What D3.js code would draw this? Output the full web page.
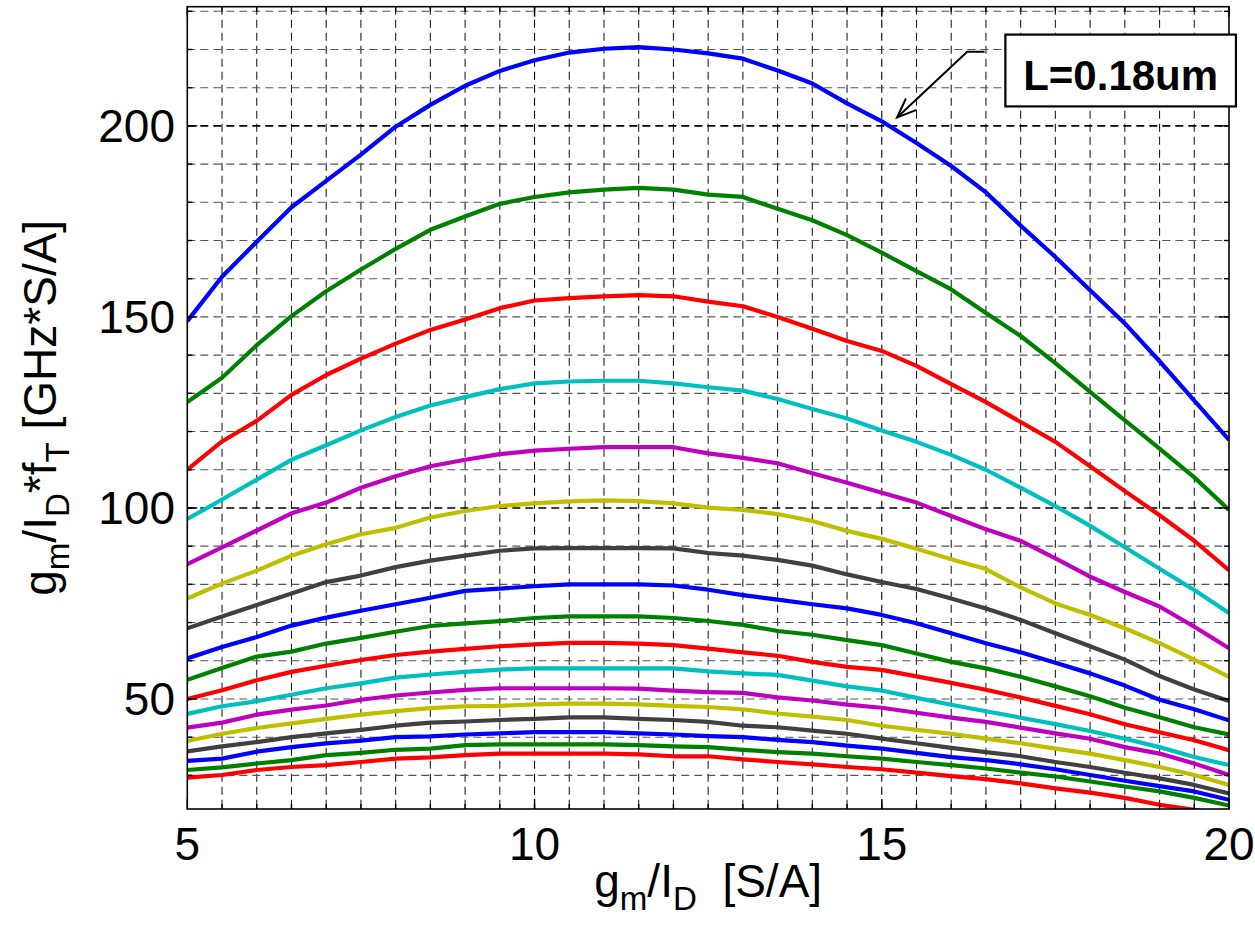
<!DOCTYPE html>
<html><head><meta charset="utf-8">
<script src="https://cdn.jsdelivr.net/npm/d3@7"></script>
<style>
html,body{margin:0;padding:0;background:#fff;}
svg{display:block;font-family:"Liberation Sans",Arial,Helvetica,sans-serif;}
</style></head>
<body><svg id="chart" width="1255" height="936"></svg>
<script>
// x values (gm/ID, S/A)
const xVals = [5,5.5,6,6.5,7,7.5,8,8.5,9,9.5,10,10.5,11,11.5,12,12.5,13,13.5,14,14.5,15,15.5,16,16.5,17,17.5,18,18.5,19,19.5,20];
const xTicks = [5,10,15,20];
const yTicks = [50,100,150,200];
const lineColors = ["#0000ff","#008000","#ff0000","#00bfbf","#bf00bf","#bfbf00","#404040"];

const s01 = [148.9,160.5,169.7,178.7,185.6,192.5,199.8,205.5,210.5,214.4,217.2,219.2,220.2,220.6,220.0,219.0,217.6,214.5,211.1,205.9,201.2,195.5,189.5,182.6,173.9,165.7,157.0,148.3,138.4,128.1,117.8];
const s02 = [127.7,134.1,142.6,150.2,156.7,162.4,167.8,172.8,176.3,179.6,181.4,182.6,183.3,183.8,183.3,182.0,181.4,178.3,175.3,171.4,166.8,162.0,157.2,151.0,145.0,137.9,130.4,122.9,115.5,108.0,99.5];
const s03 = [110.0,117.4,122.8,129.6,134.8,139.1,143.0,146.6,149.3,152.3,154.3,154.9,155.4,155.7,155.4,154.0,152.8,150.0,146.9,143.7,141.1,137.2,132.4,127.7,122.5,117.3,110.9,104.4,98.1,91.4,83.7];
const s04 = [97.1,102.2,107.4,112.6,116.4,120.3,123.8,126.8,129.0,131.1,132.6,133.1,133.3,133.3,132.6,131.6,130.7,128.5,125.9,123.4,120.3,117.3,113.9,110.0,105.3,100.5,95.3,89.7,84.1,78.5,72.5];
const s05 = [85.3,89.7,94.1,98.6,101.4,105.3,108.3,110.9,112.6,114.1,115.0,115.5,115.9,115.9,115.9,114.3,113.1,111.7,109.1,106.6,104.0,101.4,97.9,94.4,91.4,86.8,82.0,78.0,74.2,68.9,63.3];
const s06 = [76.3,80.2,83.6,87.5,90.5,93.1,94.8,97.5,99.2,100.5,101.2,101.7,102.0,101.8,101.2,100.1,99.5,98.4,96.6,94.0,91.9,89.3,86.6,84.0,79.2,75.0,72.0,68.5,64.6,60.3,55.8];
const s07 = [68.5,71.6,74.6,77.6,80.6,82.3,84.5,86.2,87.5,88.8,89.4,89.5,89.5,89.5,89.4,88.2,87.5,86.4,84.9,82.6,80.6,78.8,76.3,73.7,70.7,67.2,63.8,60.3,56.0,52.5,49.5];
const s08 = [60.6,63.6,66.2,69.2,71.3,73.1,74.8,76.5,78.3,78.9,79.5,80.0,80.0,80.0,79.7,78.6,77.2,76.0,74.8,73.7,72.0,69.8,67.2,64.6,62.2,59.5,56.7,53.5,49.8,47.3,44.4];
const s09 = [55.0,58.1,61.1,62.4,64.5,66.0,67.6,69.1,69.8,70.4,71.2,71.6,71.6,71.6,71.2,70.4,69.4,67.8,66.8,65.4,64.1,61.9,59.7,58.0,55.8,53.3,50.7,47.7,45.2,42.6,40.7];
const s10 = [50.0,52.3,54.9,57.1,58.7,60.2,61.5,62.4,63.1,63.8,64.3,64.7,64.7,64.5,64.1,63.2,62.2,61.3,59.7,58.4,57.6,55.9,54.2,52.4,50.4,48.2,46.0,43.4,41.3,39.2,36.6];
const s11 = [46.1,48.1,49.4,51.1,52.8,54.1,55.6,56.4,57.1,57.7,58.0,58.0,58.0,58.0,58.0,57.2,56.7,56.3,54.8,53.3,52.2,50.3,48.5,46.8,45.1,43.4,41.6,39.6,37.4,34.8,32.7];
const s12 = [42.5,43.8,45.9,47.2,48.3,49.8,50.9,51.7,52.4,52.8,52.8,52.8,52.8,52.7,52.2,51.8,51.6,50.4,49.6,48.5,47.7,46.4,45.1,44.0,42.5,41.0,39.6,37.4,35.7,33.1,30.1];
const s13 = [39.0,40.9,42.4,43.6,44.8,45.9,46.8,47.6,48.1,48.2,48.6,48.8,48.8,48.6,48.2,47.9,47.3,46.2,45.4,44.5,43.0,41.9,40.9,39.6,38.4,37.0,35.7,34.0,32.2,30.1,27.5];
const s14 = [36.3,37.6,38.7,40.0,41.0,41.9,43.0,43.8,44.1,44.5,44.8,45.2,45.2,44.8,44.5,44.0,43.0,42.6,41.7,40.9,39.6,38.4,37.2,36.1,35.0,33.5,32.2,30.7,29.2,27.5,25.3];
const s15 = [33.8,34.4,36.2,37.4,38.4,39.1,40.0,40.2,40.7,41.0,41.3,41.3,41.3,41.0,40.7,40.3,40.0,39.3,38.7,37.8,37.0,35.9,34.8,34.0,32.9,31.6,30.1,28.6,27.2,25.8,23.6];
const s16 = [31.4,32.1,33.1,34.0,35.3,35.9,36.7,37.0,37.9,38.1,38.1,38.1,38.1,37.9,37.6,37.4,36.7,36.1,35.7,35.0,34.4,33.5,32.7,31.8,30.7,29.7,28.4,27.1,25.8,24.1,22.1];
const s17 = [29.4,30.1,31.4,32.2,32.7,33.5,34.4,34.7,35.3,35.7,35.7,35.7,35.7,35.5,35.0,35.0,34.2,33.5,32.9,32.2,31.6,30.7,29.8,29.0,27.9,26.6,25.5,24.1,22.3,21.0,19.5];
const seriesList = [s01,s02,s03,s04,s05,s06,s07,s08,s09,s10,s11,s12,s13,s14,s15,s16,s17];

const annotationText = "L=0.18um";
const annotationArrow = [[15.22,202.2],[16.23,219.4],[16.48,219.4]]; // tip, elbow, end (data units)

// ---------- layout ----------
const svg = d3.select("#chart");
const M = {left:187.3, right:1229, top:6.7, bottom:809};
const x = d3.scaleLinear().domain([5,20]).range([M.left, M.right]);
const y = d3.scaleLinear().domain([21.2,231.2]).range([M.bottom, M.top]);

// grid
const gridX = d3.range(5.5, 20, 0.5);
const gridY = d3.range(30, 231, 10);
const grid = svg.append("g");
grid.selectAll("line.gx").data(gridX).join("line")
  .attr("x1", d=>x(d)).attr("x2", d=>x(d)).attr("y1", M.top).attr("y2", M.bottom)
  .attr("stroke", d => (d%5===0) ? "#000" : "#222").attr("stroke-width", 1.1)
  .attr("stroke-dasharray", "8,5");
grid.selectAll("line.gy").data(gridY).join("line")
  .attr("x1", M.left).attr("x2", M.right).attr("y1", d=>y(d)).attr("y2", d=>y(d))
  .attr("stroke", d => (d%100===0) ? "#000" : "#555")
  .attr("stroke-width", d => (d%100===0) ? 1.6 : 1.1)
  .attr("stroke-dasharray", "8,5");

// curves
svg.append("clipPath").attr("id","clip").append("rect")
  .attr("x", M.left).attr("y", M.top).attr("width", M.right-M.left).attr("height", M.bottom-M.top);
const lineGen = d3.line().x((d,i)=>x(xVals[i])).y(d=>y(d));
svg.append("g").attr("clip-path","url(#clip)")
  .selectAll("path").data(seriesList).join("path")
  .attr("d", d=>lineGen(d))
  .attr("fill","none")
  .attr("stroke", (d,i)=>lineColors[i % lineColors.length])
  .attr("stroke-width", 4.2)
  .attr("stroke-linejoin","round")
  .attr("stroke-linecap","butt");

// axes box
svg.append("rect").attr("x", M.left).attr("y", M.top)
  .attr("width", M.right-M.left).attr("height", M.bottom-M.top)
  .attr("fill","none").attr("stroke","#000").attr("stroke-width",1.6);

// ticks (inside)
const tk = svg.append("g").attr("stroke","#000").attr("stroke-width",1.4);
const minorX = d3.range(5.5, 20, 0.5), minorY = d3.range(30, 231, 10);
minorX.forEach(v=>{ tk.append("line").attr("x1",x(v)).attr("x2",x(v)).attr("y1",M.bottom).attr("y2",M.bottom-5);
                    tk.append("line").attr("x1",x(v)).attr("x2",x(v)).attr("y1",M.top).attr("y2",M.top+5); });
minorY.forEach(v=>{ tk.append("line").attr("y1",y(v)).attr("y2",y(v)).attr("x1",M.left).attr("x2",M.left+5);
                    tk.append("line").attr("y1",y(v)).attr("y2",y(v)).attr("x1",M.right).attr("x2",M.right-5); });
xTicks.forEach(v=>{ tk.append("line").attr("x1",x(v)).attr("x2",x(v)).attr("y1",M.bottom).attr("y2",M.bottom-10);
                    tk.append("line").attr("x1",x(v)).attr("x2",x(v)).attr("y1",M.top).attr("y2",M.top+10); });
yTicks.forEach(v=>{ tk.append("line").attr("y1",y(v)).attr("y2",y(v)).attr("x1",M.left).attr("x2",M.left+10);
                    tk.append("line").attr("y1",y(v)).attr("y2",y(v)).attr("x1",M.right).attr("x2",M.right-10); });

// tick labels
const FS = 46;
svg.append("g").selectAll("text").data(xTicks).join("text")
  .attr("x", d=>x(d)).attr("y", 860).attr("text-anchor","middle")
  .attr("font-size", FS).attr("fill","#000").text(d=>d);
svg.append("g").selectAll("text").data(yTicks).join("text")
  .attr("x", 175).attr("y", d=>y(d)).attr("dy","0.35em").attr("text-anchor","end")
  .attr("font-size", FS).attr("fill","#000").text(d=>d);

// axis labels with subscripts
function richLabel(sel, parts){
  parts.forEach(p=>{
    const t = sel.append("tspan").text(p.t);
    if (p.sub){ t.attr("font-size", FS*0.72).attr("dy", FS*0.28); }
    else if (p.after){ t.attr("dy", -FS*0.28); }
  });
}
const xl = svg.append("text").attr("x", (M.left+M.right)/2).attr("y", 897)
  .attr("text-anchor","middle").attr("font-size", FS).attr("fill","#000");
richLabel(xl, [{t:"g"},{t:"m",sub:true},{t:"/I",after:true},{t:"D",sub:true},{t:"\u00a0\u00a0[S/A]",after:true}]);

const yl = svg.append("text")
  .attr("transform", `translate(56,${(M.top+M.bottom)/2}) rotate(-90)`)
  .attr("text-anchor","middle").attr("font-size", FS).attr("fill","#000");
richLabel(yl, [{t:"g"},{t:"m",sub:true},{t:"/I",after:true},{t:"D",sub:true},{t:"*f",after:true},{t:"T",sub:true},{t:" [GHz*S/A]",after:true}]);

// annotation
const ann = svg.append("g");
ann.append("path")
  .attr("d", d3.line().x(d=>x(d[0])).y(d=>y(d[1]))(annotationArrow))
  .attr("fill","none").attr("stroke","#000").attr("stroke-width",2);
{
  const tip = annotationArrow[0], el = annotationArrow[1];
  const tx = x(tip[0]), ty = y(tip[1]), ex = x(el[0]), ey = y(el[1]);
  const ang = Math.atan2(ey-ty, ex-tx), L = 21, w = 0.38;
  const p1 = [tx + L*Math.cos(ang+w), ty + L*Math.sin(ang+w)];
  const p2 = [tx + L*Math.cos(ang-w), ty + L*Math.sin(ang-w)];
  ann.append("path").attr("d", `M${p1[0]},${p1[1]}L${tx},${ty}L${p2[0]},${p2[1]}`)
    .attr("fill","none").attr("stroke","#000").attr("stroke-width",2);
}
const bx0 = x(16.78), bx1 = x(20.1), by0 = y(223.9), by1 = y(205.1);
ann.append("rect").attr("x",bx0).attr("y",by0).attr("width",bx1-bx0).attr("height",by1-by0)
  .attr("fill","#fff").attr("stroke","#000").attr("stroke-width",2.2);
ann.append("text").attr("x",(bx0+bx1)/2).attr("y",90).attr("text-anchor","middle")
  .attr("font-size",42).attr("font-weight","bold").attr("fill","#000").text(annotationText);
</script></body></html>
